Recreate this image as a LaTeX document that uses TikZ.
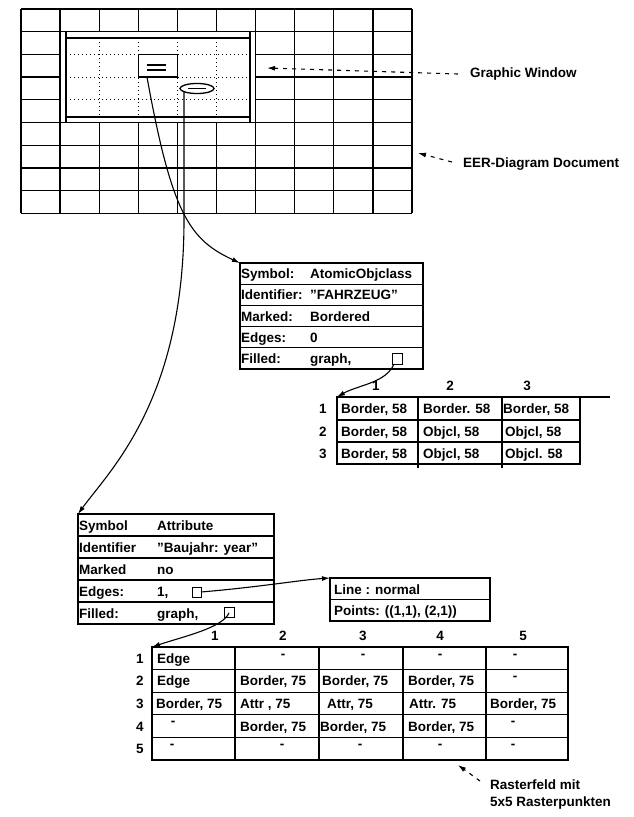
\documentclass[tikz,border=0pt]{standalone}
\usepackage{fontspec}
\setmainfont{Liberation Sans}
\usetikzlibrary{arrows.meta}
\begin{document}
\begin{tikzpicture}[x=1pt,y=-1pt,
  ln/.style={line width=1.3pt},
  dotln/.style={line width=0.9pt, dash pattern=on 1pt off 3pt},
  tx/.style={inner sep=0pt, anchor=base west, font=\fontsize{13.5}{16}\selectfont\bfseries},
  txc/.style={inner sep=0pt, anchor=base, font=\fontsize{13.5}{16}\selectfont\bfseries},
  conn/.style={line width=1.1pt, -{Latex[length=8pt,width=5pt]}},
  lab/.style={line width=1.1pt, dash pattern=on 4pt off 5pt, -{Latex[length=8pt,width=5pt]}},
  box/.style={line width=1pt}
]
\useasboundingbox[fill=white] (0,0) rectangle (633,817);

% ---------------- EER-Diagram Document grid ----------------
\foreach \i in {0,1,6,7,8,9,10} \draw[ln] ({21+39.1*\i},9) -- ({21+39.1*\i},213.3);
\foreach \i in {2,3,4,5} {
  \draw[ln] ({21+39.1*\i},9) -- ({21+39.1*\i},31.7);
  \draw[ln] ({21+39.1*\i},122.5) -- ({21+39.1*\i},213.3);
}
\foreach \j in {0,1,5,6,7,8,9} \draw[ln] (21,{9+22.7*\j}) -- (412,{9+22.7*\j});
\foreach \j in {2,3,4} {
  \draw[ln] (21,{9+22.7*\j}) -- (60.1,{9+22.7*\j});
  \draw[ln] (255.6,{9+22.7*\j}) -- (412,{9+22.7*\j});
}
% graphic window inner frame
\draw[ln] (66,31.7) -- (66,122.5);
\draw[ln] (250,31.7) -- (250,122.5);
\draw[ln] (66,38) -- (250,38);
\draw[ln] (66,117) -- (250,117);
% dotted raster inside window
\foreach \i in {2,3,4,5} \draw[dotln] ({21+39.1*\i},38) -- ({21+39.1*\i},117);
\foreach \j in {2,3,4} \draw[dotln] (66,{9+22.7*\j}) -- (250,{9+22.7*\j});
% symbols in window
\draw[ln,fill=white] (138.3,54.4) rectangle (177.4,77.1);
\draw[ln] (147,65) -- (166,65);
\draw[ln] (147,70) -- (166,70);
\draw[ln,fill=white] (197,88.5) ellipse [x radius=17pt, y radius=5pt];
\draw[ln] (188,88.5) -- (206,88.5);
\coordinate (rectB) at (147,77.1);
\coordinate (ellB) at (184,92);
\coordinate (ellDown) at (184,220);

% labels on the right
\coordinate (gwHead) at (267,68);
\coordinate (gwTail) at (458,74);
\node[inner sep=0pt, anchor=west, font=\fontsize{13.5}{16}\selectfont\bfseries] (gwLab) at (470,74) {Graphic Window};
\draw[lab] (gwTail) -- (gwHead);
\coordinate (eerHead) at (418,153);
\coordinate (eerTail) at (452,162);
\node[inner sep=0pt, anchor=west, font=\fontsize{13.5}{16}\selectfont\bfseries] (eerLab) at (463,164) {EER-Diagram Document};
\draw[lab] (eerTail) -- (eerHead);

% ---------------- Symbol table (AtomicObjclass) ----------------
\draw[ln] (240,263) rectangle (423,369);
\foreach \k in {1,2,3,4} \draw[ln] (240,{263+21.2*\k}) -- (423,{263+21.2*\k});
\coordinate (symTL) at (240,263);
\node[tx] (s1a) at (241,278.6) {Symbol:};
\node[tx] (s1b) at (310,278.6) {AtomicObjclass};
\node[tx] (s2a) at (241,299.8) {Identifier:};
\node[tx] (s2b) at (310,299.8) {"FAHRZEUG"};
\node[tx] (s3a) at (241,321) {Marked:};
\node[tx] (s3b) at (310,321) {Bordered};
\node[tx] (s4a) at (241,342.2) {Edges:};
\node[tx] (s4b) at (310,342.2) {0};
\node[tx] (s5a) at (241,363.4) {Filled:};
\node[tx] (s5b) at (310,363.4) {graph,};
\draw[box] (392,353) rectangle (402,364);
\coordinate (symBox) at (394,364);

% ---------------- Raster table 1 (3x3) ----------------
\draw[ln] (337,397) rectangle (580,464);
\draw[ln] (580,397) -- (610,397);
\draw[ln] (337,420) -- (580,420);
\draw[ln] (337,442) -- (580,442);
\draw[ln] (418,397) -- (418,468);
\draw[ln] (502,397) -- (502,468);
\coordinate (t1TL) at (337,397);
\node[txc] (t1h1) at (376,390) {1};
\node[txc] (t1h2) at (450,390) {2};
\node[txc] (t1h3) at (527,390) {3};
\node[txc] (t1r1) at (323,413.5) {1};
\node[txc] (t1r2) at (323,436) {2};
\node[txc] (t1r3) at (323,458) {3};
\node[tx] (t1a1) at (341,413.5) {Border, 58};
\node[tx] (t1a2) at (423,413.5) {Border. 58};
\node[tx] (t1a3) at (503,413.5) {Border, 58};
\node[tx] (t1b1) at (341,436) {Border, 58};
\node[tx] (t1b2) at (423,436) {Objcl, 58};
\node[tx] (t1b3) at (505,436) {Objcl, 58};
\node[tx] (t1c1) at (341,458) {Border, 58};
\node[tx] (t1c2) at (423,458) {Objcl, 58};
\node[tx] (t1c3) at (505,458) {Objcl. 58};

% ---------------- Attribute table ----------------
\draw[ln] (78,514) rectangle (274,624);
\foreach \k in {1,2,3,4} \draw[ln] (78,{514+22*\k}) -- (274,{514+22*\k});
\coordinate (attTL) at (78,514);
\node[tx] (a1a) at (79,530) {Symbol};
\node[tx] (a1b) at (157,530) {Attribute};
\node[tx] (a2a) at (79,552) {Identifier};
\node[tx] (a2b) at (157,552) {"Baujahr: year"};
\node[tx] (a3a) at (79,574) {Marked};
\node[tx] (a3b) at (157,574) {no};
\node[tx] (a4a) at (79,596) {Edges:};
\node[tx] (a4b) at (157,596) {1,};
\node[tx] (a5a) at (79,618) {Filled:};
\node[tx] (a5b) at (157,618) {graph,};
\draw[box] (192,587) rectangle (201,597);
\draw[box] (224,607) rectangle (234,617);
\coordinate (edgBox) at (201,592);
\coordinate (filBox) at (229,613);

% ---------------- Line box ----------------
\draw[ln] (330,578) rectangle (490,621);
\draw[ln] (330,599.5) -- (490,599.5);
\coordinate (lineTL) at (330,578);
\node[tx] (l1) at (334,594) {Line : normal};
\node[tx] (l2) at (334,615.5) {Points: ((1,1), (2,1))};

% ---------------- Raster table 2 (5x5) ----------------
\draw[ln] (152,647) rectangle (568,760);
\foreach \k in {1,2,3,4} \draw[ln] (152,{647+22.6*\k}) -- (568,{647+22.6*\k});
\foreach \c in {235,319,403,486} \draw[ln] (\c,647) -- (\c,760);
\coordinate (t2TL) at (152,647);
\node[txc] (t2h1) at (215,640) {1};
\node[txc] (t2h2) at (283,640) {2};
\node[txc] (t2h3) at (363,640) {3};
\node[txc] (t2h4) at (440,640) {4};
\node[txc] (t2h5) at (523,640) {5};
\node[txc] (t2r1) at (140,663.3) {1};
\node[txc] (t2r2) at (140,685.9) {2};
\node[txc] (t2r3) at (140,708.5) {3};
\node[txc] (t2r4) at (140,731.1) {4};
\node[txc] (t2r5) at (140,753.7) {5};
% row 1
\node[tx] (c11) at (157,663.3) {Edge};
\node[txc] (c12) at (283,658) {-};
\node[txc] (c13) at (363,658) {-};
\node[txc] (c14) at (440,658) {-};
\node[txc] (c15) at (515,658) {-};
% row 2
\node[tx] (c21) at (157,685.9) {Edge};
\node[tx] (c22) at (240,685.9) {Border, 75};
\node[tx] (c23) at (322,685.9) {Border, 75};
\node[tx] (c24) at (408,685.9) {Border, 75};
\node[txc] (c25) at (515,680.6) {-};
% row 3
\node[tx] (c31) at (156,708.5) {Border, 75};
\node[tx] (c32) at (240,708.5) {Attr , 75};
\node[tx] (c33) at (327,708.5) {Attr, 75};
\node[tx] (c34) at (409,708.5) {Attr. 75};
\node[tx] (c35) at (490,708.5) {Border, 75};
% row 4
\node[txc] (c41) at (173,725.8) {-};
\node[tx] (c42) at (240,731.1) {Border, 75};
\node[tx] (c43) at (320,731.1) {Border, 75};
\node[tx] (c44) at (408,731.1) {Border, 75};
\node[txc] (c45) at (513,725.8) {-};
% row 5
\node[txc] (c51) at (172,748.4) {-};
\node[txc] (c52) at (282,748.4) {-};
\node[txc] (c53) at (360,748.4) {-};
\node[txc] (c54) at (440,748.4) {-};
\node[txc] (c55) at (513,748.4) {-};

% Raster label
\coordinate (rHead) at (458,765);
\coordinate (rTail) at (480,781);
\draw[lab] (rTail) -- (rHead);
\node[tx] (rl1) at (490,789) {Rasterfeld mit};
\node[tx] (rl2) at (490,806) {5x5 Rasterpunkten};

% ---------------- connectors ----------------
\draw[conn] (rectB) .. controls (172,215) and (190,240) .. (symTL);
\draw[conn] (ellB) -- (ellDown) .. controls (184,400) and (110,470) .. (attTL);
\draw[conn] (symBox) .. controls (386,383) and (358,385) .. (t1TL);
\draw[conn] (edgBox) .. controls (260,587) and (300,580) .. (lineTL);
\draw[conn] (filBox) .. controls (222,628) and (185,636) .. (t2TL);
\end{tikzpicture}
\end{document}
